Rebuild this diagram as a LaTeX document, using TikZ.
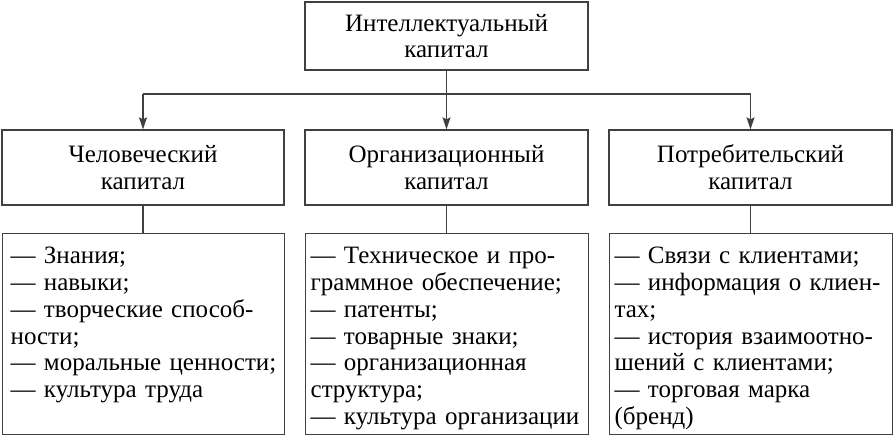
\documentclass[tikz,border=0pt]{standalone}
\usepackage{fontspec}
\setmainfont{Liberation Serif}
\usetikzlibrary{arrows.meta}

\begin{document}
\begin{tikzpicture}[
    x=1pt, y=-1pt,
    font=\fontsize{25}{26.8}\selectfont,
    % Style for the boxes with a title
    titlebox/.style={
        draw=black!75, line width=1.3pt,
        minimum width=283pt, minimum height=75pt,
        align=center, inner sep=0pt
    },
    % Style for the boxes with the lists
    listbox/.style={
        draw=black!75, line width=1.3pt,
        anchor=north west, align=left,
        text width=273pt, inner xsep=5pt, inner ysep=0pt,
        text height=30pt, text depth=171pt
    },
    % Style for the connectors
    link/.style={line width=1.3pt, draw=black!75},
    arr/.style={
        link,
        -{Stealth[length=12pt, width=8pt, inset=2pt]}
    }
]
\useasboundingbox (0,0) rectangle (894,437);

% --- Top box ---
\node[titlebox, minimum height=68pt] (ic) at (446.5,36) {Интеллектуальный\\капитал};

% --- Second level ---
\node[titlebox, minimum width=282pt] (hum) at (143,167.5) {Человеческий\\капитал};
\node[titlebox] (org) at (446.5,167.5) {Организационный\\капитал};
\node[titlebox] (cons) at (750.5,167.5) {Потребительский\\капитал};

% --- Lists ---
\node[listbox, text width=266pt, inner xsep=8pt] (humlist) at (2,233) {— Знания;\\— навыки;\\— творческие способ-\\ности;\\— моральные ценности;\\— культура труда};
\node[listbox] (orglist) at (305,233) {— Техническое и про-\\граммное обеспечение;\\— патенты;\\— товарные знаки;\\— организационная\\структура;\\— культура организации};
\node[listbox] (conslist) at (609,233) {— Связи с клиентами;\\— информация о клиен-\\тах;\\— история взаимоотно-\\шений с клиентами;\\— торговая марка\\(бренд)};

% --- Connectors ---
\coordinate (split) at (ic.south |- 0,94);
\draw[link] (ic.south) -- (split);
\draw[link] (hum.north |- split) -- (cons.north |- split);
\foreach \n/\l in {hum/humlist, org/orglist, cons/conslist} {
    \draw[arr] (\n.north |- split) -- (\n.north);
    \draw[link] (\n.south) -- (\n.south |- \l.north);
}

\end{tikzpicture}
\end{document}
